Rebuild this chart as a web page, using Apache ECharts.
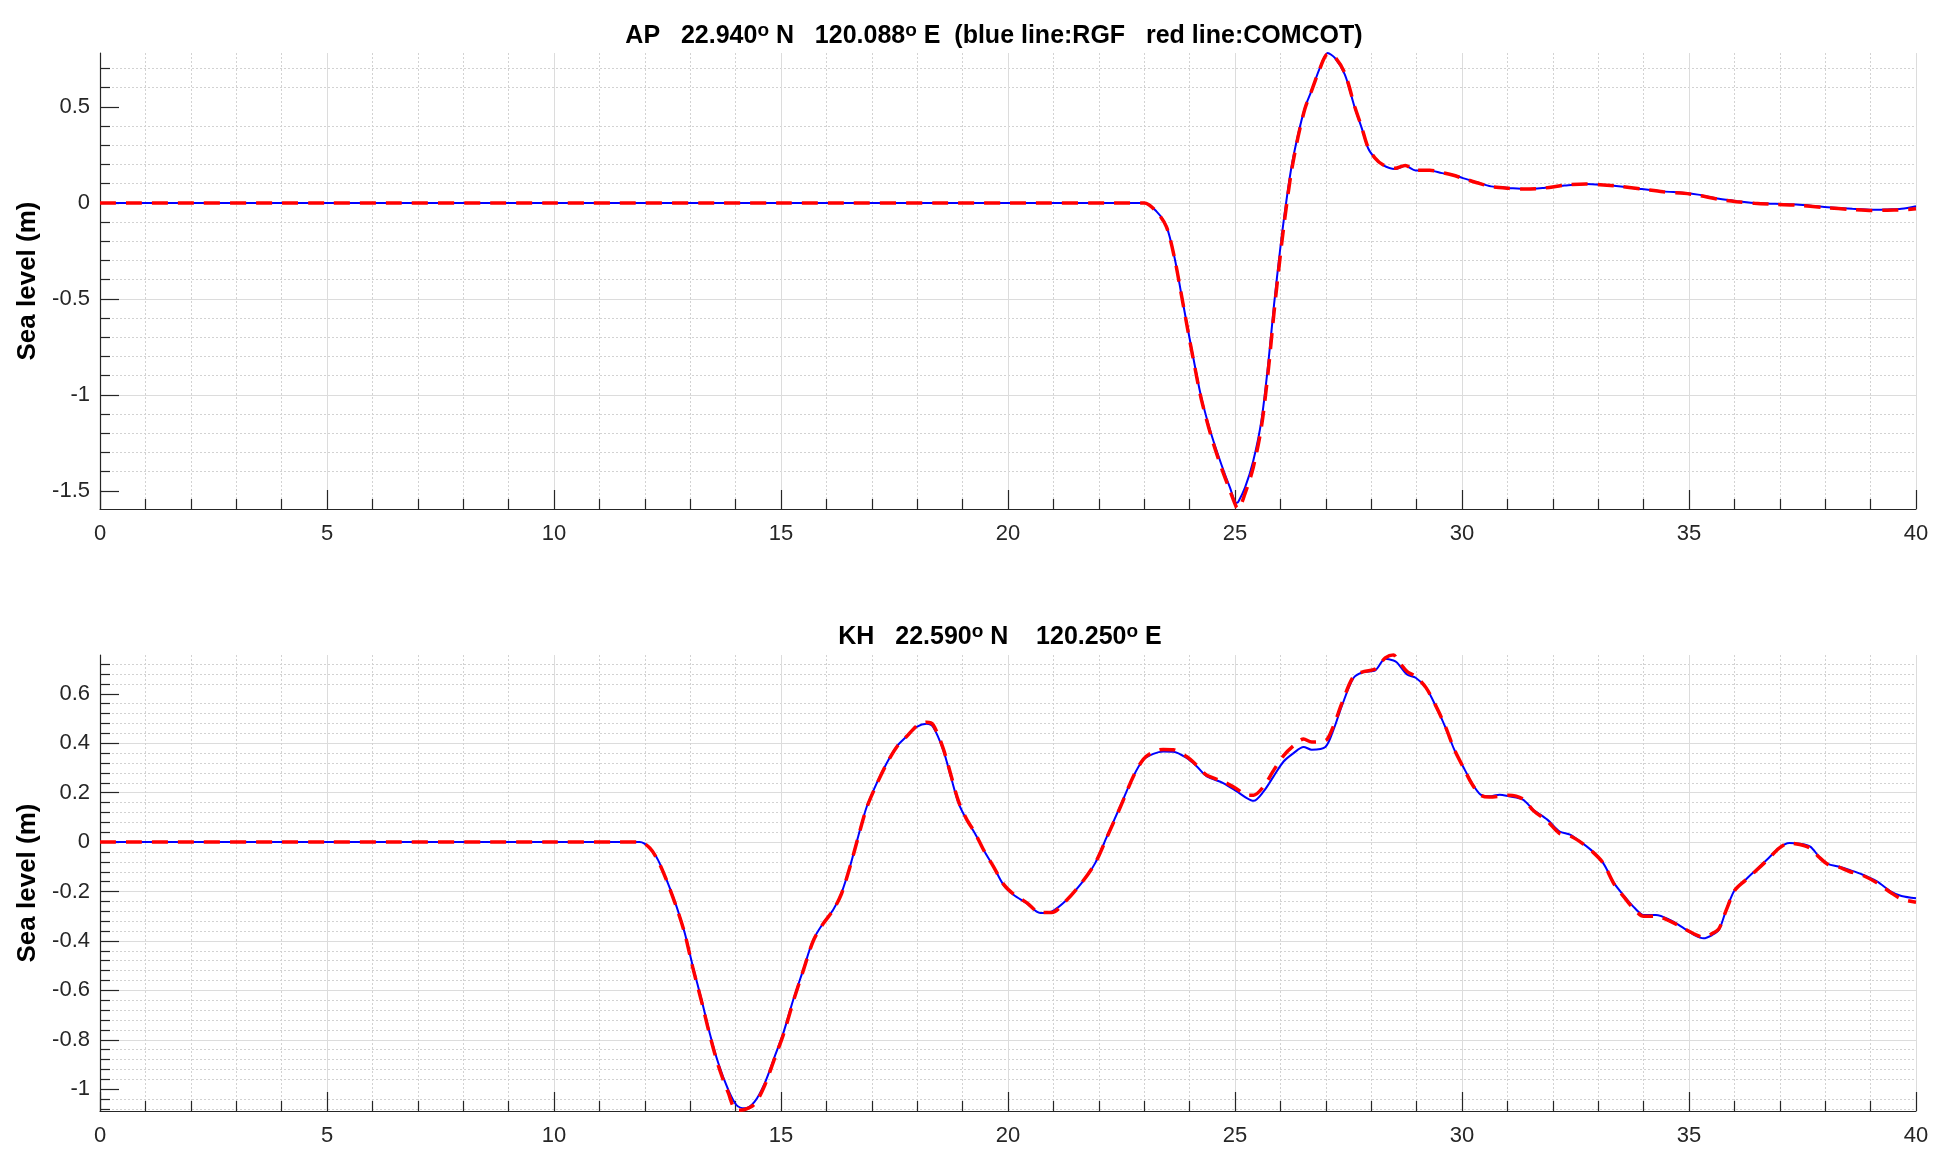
<!DOCTYPE html>
<html>
<head>
<meta charset="utf-8">
<script src="https://cdn.jsdelivr.net/npm/echarts@6/dist/echarts.min.js"></script>
<style>
  html, body { margin: 0; padding: 0; background: #fff; }
  #chart { width: 1948px; height: 1170px; }
</style>
</head>
<body>
<div id="chart"></div>
<script>
// ---------- DATA ----------
const xTicks = [0, 5, 10, 15, 20, 25, 30, 35, 40];
const apYTicks = [-1.5, -1, -0.5, 0, 0.5];
const khYTicks = [-1, -0.8, -0.6, -0.4, -0.2, 0, 0.2, 0.4, 0.6];

const apTitleParts = ['AP   22.940', 'o', ' N   120.088', 'o', ' E  (blue line:RGF   red line:COMCOT)'];
const khTitleParts = ['KH   22.590', 'o', ' N    120.250', 'o', ' E'];
const yLabel = 'Sea level (m)';
const seriesNames = ['RGF', 'COMCOT'];

const apTime = [0, 5, 10, 15, 20, 23.0, 23.27, 23.49, 23.67, 23.82, 23.97, 24.11, 24.26, 24.48, 24.70, 24.89,
  25.03, 25.07, 25.22, 25.40, 25.58, 25.73, 25.86, 25.99, 26.10, 26.24, 26.39, 26.54, 26.68, 26.87, 27.04,
  27.20, 27.42, 27.64, 27.79, 27.93, 28.08, 28.25, 28.52, 28.75, 28.98, 29.29, 29.56, 29.79, 30.02, 30.33,
  30.64, 31.03, 31.41, 31.80, 32.26, 32.73, 33.04, 33.50, 33.96, 34.43, 34.89, 35.20, 35.66, 36.05, 36.44,
  36.90, 37.36, 37.98, 38.60, 39.06, 39.37, 39.68, 40.0];
const apRGF = [0, 0, 0, 0, 0, 0, -0.044, -0.122, -0.287, -0.478, -0.669, -0.842, -1.016, -1.207, -1.363, -1.484,
  -1.5625, -1.558, -1.484, -1.346, -1.137, -0.842, -0.530, -0.252, -0.044, 0.182, 0.356, 0.495, 0.581, 0.703, 0.781,
  0.755, 0.668, 0.495, 0.391, 0.286, 0.234, 0.198, 0.176, 0.193, 0.169, 0.169, 0.155, 0.147, 0.129, 0.107,
  0.086, 0.078, 0.072, 0.078, 0.090, 0.098, 0.095, 0.086, 0.072, 0.060, 0.052, 0.043, 0.021, 0.009, 0.0,
  -0.005, -0.009, -0.021, -0.031, -0.036, -0.034, -0.031, -0.017];
const apCOMCOT = [0, 0, 0, 0, 0, 0, -0.046, -0.125, -0.290, -0.480, -0.675, -0.850, -1.025, -1.220, -1.380, -1.500,
  -1.585, -1.594, -1.515, -1.380, -1.170, -0.880, -0.570, -0.290, -0.075, 0.160, 0.345, 0.490, 0.580, 0.700, 0.775,
  0.760, 0.675, 0.500, 0.395, 0.290, 0.235, 0.200, 0.180, 0.195, 0.170, 0.170, 0.158, 0.145, 0.128, 0.105,
  0.085, 0.076, 0.072, 0.077, 0.092, 0.099, 0.095, 0.085, 0.072, 0.058, 0.050, 0.040, 0.018, 0.006, -0.002,
  -0.008, -0.012, -0.024, -0.035, -0.040, -0.038, -0.036, -0.031];

const khTime = [0, 5, 10, 11.89, 12.11, 12.29, 12.48, 12.70, 12.88, 13.06, 13.25, 13.43, 13.62, 13.84, 14.02, 14.20,
  14.42, 14.64, 14.86, 15.05, 15.27, 15.49, 15.71, 15.93, 16.15, 16.33, 16.52, 16.70, 16.89, 17.11, 17.33, 17.55,
  17.77, 17.99, 18.21, 18.35, 18.57, 18.76, 18.91, 19.09, 19.27, 19.46, 19.68, 19.90, 20.12, 20.41, 20.71, 20.96,
  21.29, 21.62, 21.92, 22.18, 22.47, 22.76, 22.98, 23.20, 23.42, 23.64, 23.94, 24.16, 24.38, 24.74, 25.04, 25.26,
  25.41, 25.63, 25.85, 26.07, 26.29, 26.51, 26.69, 26.99, 27.17, 27.35, 27.61, 27.83, 28.09, 28.31, 28.49, 28.57,
  28.79, 28.98, 29.21, 29.44, 29.64, 29.83, 30.02, 30.22, 30.41, 30.60, 30.83, 31.03, 31.34, 31.57, 31.88, 32.15,
  32.38, 32.65, 32.88, 33.11, 33.35, 33.58, 33.81, 34.00, 34.27, 34.58, 34.89, 35.12, 35.32, 35.51, 35.66, 35.82,
  36.01, 36.24, 36.48, 36.75, 36.98, 37.21, 37.44, 37.67, 37.86, 38.06, 38.29, 38.52, 38.83, 39.14, 39.45, 39.68, 40.0];
const khRGF = [0, 0, 0, 0, -0.024, -0.072, -0.153, -0.261, -0.368, -0.504, -0.638, -0.773, -0.895, -1.003, -1.064, -1.077,
  -1.050, -0.976, -0.868, -0.773, -0.638, -0.517, -0.396, -0.328, -0.274, -0.207, -0.099, 0.023, 0.144, 0.239, 0.320, 0.387,
  0.428, 0.466, 0.479, 0.466, 0.374, 0.252, 0.158, 0.090, 0.036, -0.031, -0.099, -0.173, -0.213, -0.247, -0.287, -0.281,
  -0.234, -0.166, -0.085, 0.023, 0.144, 0.266, 0.333, 0.357, 0.367, 0.366, 0.340, 0.306, 0.266, 0.239, 0.205, 0.178,
  0.167, 0.205, 0.266, 0.326, 0.360, 0.385, 0.374, 0.385, 0.455, 0.549, 0.664, 0.688, 0.695, 0.742, 0.735, 0.726,
  0.678, 0.665, 0.624, 0.543, 0.462, 0.374, 0.307, 0.239, 0.192, 0.185, 0.192, 0.185, 0.172, 0.131, 0.091, 0.043,
  0.030, -0.004, -0.038, -0.085, -0.166, -0.220, -0.268, -0.295, -0.295, -0.315, -0.349, -0.376, -0.389, -0.376, -0.355, -0.274,
  -0.193, -0.153, -0.112, -0.065, -0.024, -0.004, -0.007, -0.018, -0.058, -0.088, -0.099, -0.112, -0.132, -0.159, -0.200, -0.218, -0.227];
const khCOMCOT = [0, 0, 0, 0, -0.024, -0.075, -0.155, -0.265, -0.370, -0.510, -0.645, -0.780, -0.905, -1.015, -1.085, -1.082,
  -1.060, -0.985, -0.875, -0.780, -0.645, -0.520, -0.400, -0.330, -0.275, -0.210, -0.100, 0.020, 0.140, 0.235, 0.318, 0.385,
  0.428, 0.470, 0.485, 0.475, 0.380, 0.260, 0.165, 0.092, 0.038, -0.031, -0.099, -0.170, -0.210, -0.245, -0.285, -0.285,
  -0.235, -0.165, -0.085, 0.020, 0.140, 0.265, 0.335, 0.365, 0.375, 0.374, 0.345, 0.310, 0.270, 0.245, 0.215, 0.190,
  0.190, 0.225, 0.290, 0.350, 0.390, 0.417, 0.405, 0.410, 0.470, 0.560, 0.670, 0.690, 0.700, 0.745, 0.758, 0.740,
  0.690, 0.670, 0.624, 0.545, 0.465, 0.375, 0.305, 0.235, 0.190, 0.182, 0.185, 0.190, 0.175, 0.128, 0.085, 0.035,
  0.025, -0.005, -0.040, -0.085, -0.170, -0.225, -0.275, -0.300, -0.300, -0.320, -0.350, -0.372, -0.385, -0.370, -0.350, -0.275,
  -0.195, -0.155, -0.115, -0.068, -0.025, -0.004, -0.010, -0.025, -0.060, -0.090, -0.100, -0.118, -0.135, -0.165, -0.205, -0.230, -0.243];

const apYRange = [-1.595, 0.781];
const khYRange = [-1.088, 0.757];
const xRange = [0, 40];

// ---------- CHART ----------
const FONT = "'Liberation Sans', Arial, Helvetica, sans-serif";
const AXIS_COLOR = '#262626';
const chart = echarts.init(document.getElementById('chart'), null, { renderer: 'canvas' });

function titleText(parts) {
  return parts.map((p, i) => (i % 2 === 1 ? '{s|' + p + '}' : '{t|' + p + '}')).join('');
}
const titleRich = {
  t: { fontSize: 25, fontWeight: 'bold', fontFamily: FONT, color: '#000', lineHeight: 30 },
  s: { fontSize: 19, fontWeight: 'bold', fontFamily: FONT, color: '#000', lineHeight: 15, verticalAlign: 'top' }
};

function xAxisCfg(gridIndex) {
  return {
    gridIndex, type: 'value', min: xRange[0], max: xRange[1], interval: 5, position: 'bottom',
    axisLine: { show: true, onZero: false, lineStyle: { color: AXIS_COLOR, width: 1.2 } },
    axisTick: { show: true, inside: true, length: 19, customValues: xTicks, lineStyle: { color: AXIS_COLOR, width: 1.2 } },
    minorTick: { show: true, splitNumber: 5, length: 10, lineStyle: { color: AXIS_COLOR, width: 1.2 } },
    axisLabel: { fontSize: 22, fontFamily: FONT, color: AXIS_COLOR, margin: 14, customValues: xTicks },
    splitLine: { show: true, lineStyle: { color: '#dcdcdc', width: 1 } },
    minorSplitLine: { show: true, lineStyle: { color: '#d2d2d2', width: 1, type: [2, 2] } }
  };
}
function yAxisCfg(gridIndex, range, ticks, splitNumber) {
  return {
    gridIndex, type: 'value', min: range[0], max: range[1], splitNumber,
    name: yLabel, nameLocation: 'middle', nameGap: 57, nameRotate: 90,
    nameTextStyle: { fontSize: 26, fontWeight: 'bold', fontFamily: FONT, color: '#000' },
    axisLine: { show: true, onZero: false, lineStyle: { color: AXIS_COLOR, width: 1.2 } },
    axisTick: { show: true, inside: true, length: 19, customValues: ticks, lineStyle: { color: AXIS_COLOR, width: 1.2 } },
    minorTick: { show: true, splitNumber: 5, length: 10, lineStyle: { color: AXIS_COLOR, width: 1.2 } },
    axisLabel: {
      fontSize: 22, fontFamily: FONT, color: AXIS_COLOR, margin: 10, customValues: ticks,
      formatter: v => String(+(+v).toFixed(3))
    },
    splitLine: { show: true, showMinLine: false, showMaxLine: false, lineStyle: { color: '#dcdcdc', width: 1 } },
    minorSplitLine: { show: true, lineStyle: { color: '#d2d2d2', width: 1, type: [2, 2] } }
  };
}
function lineSeries(name, xs, ys, idx, color, width, dashed, z) {
  return {
    name, type: 'line', xAxisIndex: idx, yAxisIndex: idx,
    data: xs.map((t, i) => [t, ys[i]]),
    showSymbol: false, smooth: 0.3, clip: true, z,
    lineStyle: { color, width, type: dashed ? [16, 10] : 'solid' },
    emphasis: { disabled: true }
  };
}

chart.setOption({
  animation: false,
  backgroundColor: '#ffffff',
  title: [
    { text: titleText(apTitleParts), left: 994, top: 21, textAlign: 'center', padding: 0,
      textStyle: { rich: titleRich } },
    { text: titleText(khTitleParts), left: 1000, top: 622, textAlign: 'center', padding: 0,
      textStyle: { rich: titleRich } }
  ],
  grid: [
    { left: 100, top: 53, width: 1816, height: 456, containLabel: false },
    { left: 100, top: 655, width: 1816, height: 456, containLabel: false }
  ],
  xAxis: [xAxisCfg(0), xAxisCfg(1)],
  yAxis: [yAxisCfg(0, apYRange, apYTicks, 5), yAxisCfg(1, khYRange, khYTicks, 9)],
  series: [
    lineSeries(seriesNames[0], apTime, apRGF, 0, '#0000ff', 2, false, 2),
    lineSeries(seriesNames[1], apTime, apCOMCOT, 0, '#ff0000', 3.5, true, 3),
    lineSeries(seriesNames[0], khTime, khRGF, 1, '#0000ff', 2, false, 2),
    lineSeries(seriesNames[1], khTime, khCOMCOT, 1, '#ff0000', 3.5, true, 3)
  ]
});
</script>
</body>
</html>
